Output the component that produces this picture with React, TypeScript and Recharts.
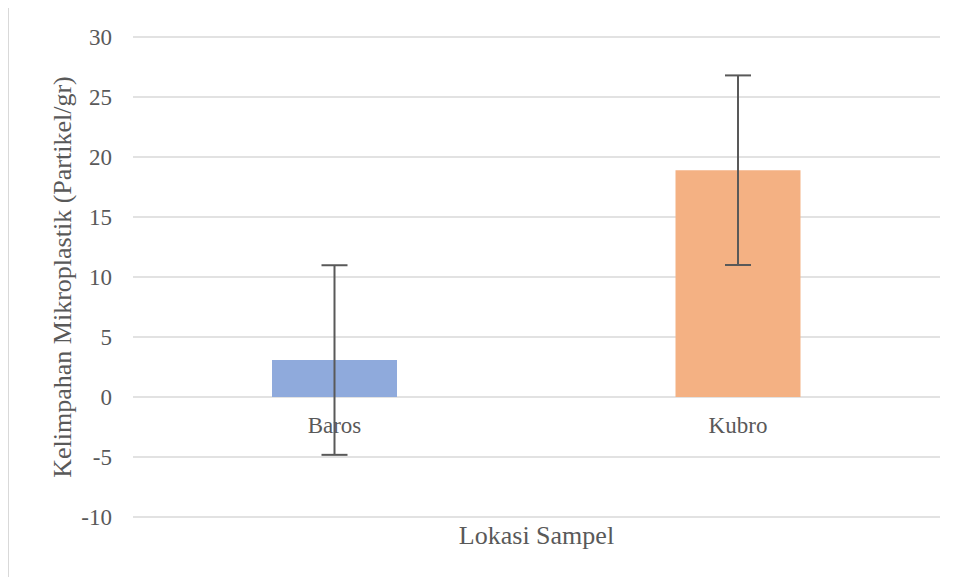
import React from "react";
import { BarChart, Bar, XAxis, YAxis, CartesianGrid, Cell, ErrorBar, LabelList, Label } from "recharts";

const locations = ["Baros", "Kubro"];
const abundance = [3.08, 18.9];
const errors = [7.9, 7.9];
const barColors = ["#8faadc", "#f4b183"];
const yTicks = [-10, -5, 0, 5, 10, 15, 20, 25, 30];

const data = locations.map((name, i) => ({ name, value: abundance[i], err: errors[i] }));

const textColor = "#595959";
const font = "Liberation Serif";

const App: React.FC = () => {
  return (
    <div style={{ position: "relative", width: 960, height: 577, marginLeft: -8, marginTop: -8, background: "#fff" }}>
      {/* only the left and top edges of the chart frame are visible in the crop */}
      <div
        style={{
          position: "absolute",
          left: 7,
          top: 6,
          width: 1000,
          height: 700,
          borderLeft: "2px solid #d9d9d9",
          borderTop: "2px solid #d9d9d9",
        }}
      />
      <div style={{ position: "absolute", left: 0, top: 0 }}>
        <BarChart width={960} height={577} data={data} margin={{ top: 37, right: 20, bottom: 20, left: -9 }}>
          <CartesianGrid vertical={false} stroke="#d9d9d9" strokeWidth={1.5} />
          <XAxis dataKey="name" tick={false} axisLine={false} tickLine={false} height={40} />
          <YAxis
            domain={[-10, 30]}
            ticks={yTicks}
            interval={0}
            width={142}
            axisLine={false}
            tickLine={false}
            tickSize={0}
            tickMargin={21}
            tick={{ fill: textColor, fontSize: 23, fontFamily: font }}
          >
            <Label
              value="Kelimpahan Mikroplastik (Partikel/gr)"
              angle={-90}
              position="center"
              fill={textColor}
              fontSize={26}
              fontFamily={font}
            />
          </YAxis>
          <Bar dataKey="value" barSize={125} isAnimationActive={false}>
            {data.map((d, i) => (
              <Cell key={d.name} fill={barColors[i]} />
            ))}
            <LabelList dataKey="name" position="bottom" offset={20} fill={textColor} fontSize={23} fontFamily={font} />
            <ErrorBar dataKey="err" width={13} stroke={textColor} strokeWidth={2} isAnimationActive={false} />
          </Bar>
        </BarChart>
      </div>
      {/* x axis title as page text, set directly in the serif face */}
      <div
        style={{
          position: "absolute",
          left: 133,
          width: 807,
          top: 521,
          textAlign: "center",
          fontFamily: "Liberation Serif",
          fontSize: 26,
          lineHeight: "30px",
          color: textColor,
        }}
      >
        Lokasi Sampel
      </div>
    </div>
  );
};

export default App;
